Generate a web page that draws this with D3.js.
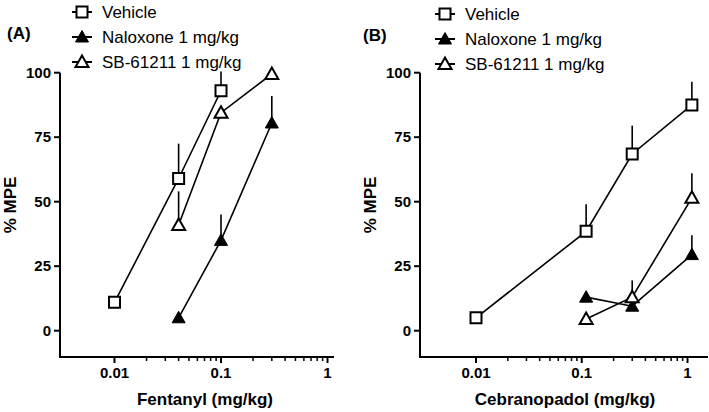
<!DOCTYPE html>
<html>
<head>
<meta charset="utf-8">
<script src="https://cdn.jsdelivr.net/npm/d3@7"></script>
<style>
  html, body { margin: 0; padding: 0; background: #fff; }
  svg { display: block; font-family: "Liberation Sans", Arial, sans-serif; }
</style>
</head>
<body>
<svg id="chart" width="709" height="412"></svg>
<script>
// ---- data ----
const seriesNames = ["Vehicle", "Naloxone 1 mg/kg", "SB-61211 1 mg/kg"];
const yTicks = [0, 25, 50, 75, 100];
const xMajorTicks = [0.01, 0.1, 1];
const xTickLabels = ["0.01", "0.1", "1"];

// Panel A: Fentanyl
const fentVehicleDose = [0.01, 0.04, 0.1];
const fentVehicleMean = [11, 59, 93];
const fentVehicleUpper = [null, 72.5, 100.5];
const fentNaloxoneDose = [0.04, 0.1, 0.3];
const fentNaloxoneMean = [5, 35, 80.5];
const fentNaloxoneUpper = [null, 45, 91];
const fentSBDose = [0.04, 0.1, 0.3];
const fentSBMean = [41, 84.5, 99.5];
const fentSBUpper = [54, null, null];

// Panel B: Cebranopadol
const cebVehicleDose = [0.01, 0.11, 0.3, 1.1];
const cebVehicleMean = [5, 38.5, 68.5, 87.5];
const cebVehicleUpper = [null, 49, 79.5, 96.5];
const cebNaloxoneDose = [0.11, 0.3, 1.1];
const cebNaloxoneMean = [13, 9.5, 29.5];
const cebNaloxoneUpper = [null, null, 37];
const cebSBDose = [0.11, 0.3, 1.1];
const cebSBMean = [4.5, 13, 51.5];
const cebSBUpper = [null, 19.5, 61];

const svg = d3.select("#chart");

function makeSeries(dose, mean, upper, kind) {
  return { kind, pts: dose.map((d, i) => ({ x: d, y: mean[i], up: upper[i] })) };
}

function markerPath(kind) {
  if (kind === "square") return "M-5.5,-5.5H5.5V5.5H-5.5Z";
  return "M0,-6.5L6.5,5L-6.5,5Z";
}
function markerFill(kind) { return kind === "filledTri" ? "#000" : "#fff"; }

function drawMarker(g, kind, x, y) {
  g.append("path")
    .attr("d", markerPath(kind))
    .attr("transform", `translate(${x},${y})`)
    .attr("fill", markerFill(kind))
    .attr("stroke", "#000")
    .attr("stroke-width", kind === "filledTri" ? 1 : 2)
    .attr("stroke-linejoin", "miter");
}

function drawPanel(cfg) {
  const g = svg.append("g");
  const y = d3.scaleLinear().domain([0, 100]).range([330.7, 72.7]);
  const x = d3.scaleLog().domain([0.01, 1]).range([cfg.x001, cfg.x1]);
  const axisY = 357;

  // y axis
  g.append("line").attr("x1", cfg.left).attr("x2", cfg.left)
    .attr("y1", y(100)).attr("y2", axisY + 1)
    .attr("stroke", "#000").attr("stroke-width", 2);
  yTicks.forEach(t => {
    g.append("line").attr("x1", cfg.left - 6).attr("x2", cfg.left)
      .attr("y1", y(t)).attr("y2", y(t)).attr("stroke", "#000").attr("stroke-width", 2);
    g.append("text").attr("x", cfg.left - 9).attr("y", y(t)).attr("dy", "0.35em")
      .attr("text-anchor", "end").attr("font-size", 15).attr("font-weight", "bold")
      .text(t);
  });

  // x axis
  g.append("line").attr("x1", cfg.left - 1).attr("x2", cfg.right)
    .attr("y1", axisY).attr("y2", axisY)
    .attr("stroke", "#000").attr("stroke-width", 2);
  const minors = [];
  [0.01, 0.1].forEach(base => { for (let k = 2; k <= 9; k++) minors.push(base * k); });
  minors.forEach(t => {
    g.append("line").attr("x1", x(t)).attr("x2", x(t))
      .attr("y1", axisY).attr("y2", axisY + 4).attr("stroke", "#000").attr("stroke-width", 1.5);
  });
  xMajorTicks.forEach((t, i) => {
    g.append("line").attr("x1", x(t)).attr("x2", x(t))
      .attr("y1", axisY).attr("y2", axisY + 6).attr("stroke", "#000").attr("stroke-width", 2);
    g.append("text").attr("x", x(t)).attr("y", 378)
      .attr("text-anchor", "middle").attr("font-size", 15).attr("font-weight", "bold")
      .text(xTickLabels[i]);
  });

  // titles
  g.append("text").attr("x", (cfg.left + cfg.right) / 2 + cfg.titleShift).attr("y", 405)
    .attr("text-anchor", "middle").attr("font-size", 17).attr("font-weight", "bold")
    .text(cfg.xTitle);
  g.append("text").attr("transform", `translate(${cfg.left - 44},205) rotate(-90)`)
    .attr("text-anchor", "middle").attr("font-size", 17).attr("font-weight", "bold")
    .text("% MPE");
  g.append("text").attr("x", cfg.labelX).attr("y", cfg.labelY)
    .attr("font-size", 17).attr("font-weight", "bold").text(cfg.label);

  const line = d3.line().x(d => x(d.x)).y(d => y(d.y));
  cfg.series.forEach(s => {
    g.append("path").attr("d", line(s.pts)).attr("fill", "none")
      .attr("stroke", "#000").attr("stroke-width", 1.6);
  });
  cfg.series.forEach(s => {
    s.pts.forEach(p => {
      if (p.up != null) {
        g.append("line").attr("x1", x(p.x)).attr("x2", x(p.x))
          .attr("y1", y(p.y)).attr("y2", y(p.up))
          .attr("stroke", "#000").attr("stroke-width", 1.6);
      }
    });
  });
  cfg.series.forEach(s => {
    s.pts.forEach(p => drawMarker(g, s.kind, x(p.x), y(p.y)));
  });

  // legend
  const kinds = ["square", "filledTri", "openTri"];
  seriesNames.forEach((name, i) => {
    const ly = cfg.legY + i * 25;
    g.append("line").attr("x1", cfg.legX - 10).attr("x2", cfg.legX + 10)
      .attr("y1", ly).attr("y2", ly).attr("stroke", "#000").attr("stroke-width", 2);
    drawMarker(g, kinds[i], cfg.legX, ly);
    g.append("text").attr("x", cfg.legX + 20).attr("y", ly).attr("dy", "0.35em")
      .attr("font-size", 17).text(name);
  });
}

drawPanel({
  left: 60, right: 334, x001: 114.5, x1: 327.5,
  xTitle: "Fentanyl (mg/kg)", titleShift: 8, label: "(A)", labelX: 7, labelY: 39,
  legX: 82, legY: 12,
  series: [
    makeSeries(fentVehicleDose, fentVehicleMean, fentVehicleUpper, "square"),
    makeSeries(fentNaloxoneDose, fentNaloxoneMean, fentNaloxoneUpper, "filledTri"),
    makeSeries(fentSBDose, fentSBMean, fentSBUpper, "openTri")
  ]
});
drawPanel({
  left: 420, right: 708, x001: 476, x1: 687.5,
  xTitle: "Cebranopadol (mg/kg)", titleShift: 1, label: "(B)", labelX: 363, labelY: 41,
  legX: 445, legY: 14,
  series: [
    makeSeries(cebVehicleDose, cebVehicleMean, cebVehicleUpper, "square"),
    makeSeries(cebNaloxoneDose, cebNaloxoneMean, cebNaloxoneUpper, "filledTri"),
    makeSeries(cebSBDose, cebSBMean, cebSBUpper, "openTri")
  ]
});
</script>
</body>
</html>
